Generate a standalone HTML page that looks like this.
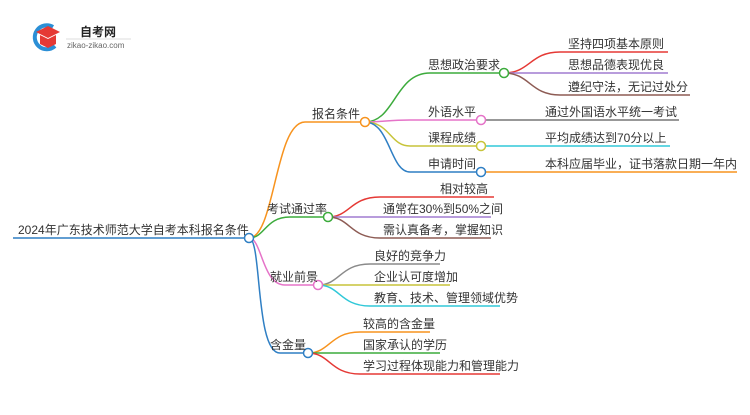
<!DOCTYPE html>
<html><head><meta charset="utf-8"><style>
html,body{margin:0;padding:0;background:#fff;}
svg text{font-family:"Liberation Sans","Noto Sans CJK SC",sans-serif;fill:#333;font-size:12px;}
</style></head><body>
<svg width="750" height="410" viewBox="0 0 750 410" xmlns="http://www.w3.org/2000/svg">
<path d="M53 27 A12 12 0 1 0 55 46" fill="none" stroke="#2b8fd6" stroke-width="4"/>
<path d="M36 32 L48 26 L60 32 L48 38 Z" fill="#e53935"/>
<path d="M40 35 L40 44 L48 48 L56 44 L56 35 L48 39 Z" fill="#e53935"/>
<text x="80" y="36" style="font-size:12px;font-weight:bold;fill:#222">自考网</text>
<line x1="66" y1="39" x2="131" y2="39" stroke="#ddd" stroke-width="1"/>
<text x="67" y="48" style="font-size:8px;fill:#666">zikao-zikao.com</text>

<g fill="none" stroke-width="1.5">
<line x1="13" y1="238" x2="245" y2="238" stroke="#2f7fc4"/>
<path d="M249 238 C275 238 275 122 305 122 L361 122" stroke="#f7931e"/>
<path d="M249 238 C265 238 265 217 290 217 L324 217" stroke="#3cab3c"/>
<path d="M249 238 C262 238 262 285 285 285 L314 285" stroke="#e573c8"/>
<path d="M249 238 C262 238 255 353 280 353 L304 353" stroke="#2f7fc4"/>
<path d="M365 122 C395 122 395 73 430 73 L500 73" stroke="#3cab3c"/>
<path d="M365 122 C380 122 390 120 410 120 L477 120" stroke="#e573c8"/>
<path d="M365 122 C390 122 390 146 410 146 L477 146" stroke="#c7c43a"/>
<path d="M365 122 C390 122 390 172 410 172 L477 172" stroke="#2f7fc4"/>
<path d="M504 73 C530 73 530 52 560 52 L668 52" stroke="#e53935"/>
<path d="M504 73 L668 73" stroke="#a07cd0"/>
<path d="M504 73 C530 73 530 95 560 95 L690 95" stroke="#8d5b54"/>
<line x1="485" y1="120" x2="679" y2="120" stroke="#777"/>
<line x1="485" y1="146" x2="670" y2="146" stroke="#30c8d8"/>
<line x1="485" y1="172" x2="737" y2="172" stroke="#f7931e"/>
<path d="M328 217 C350 217 350 197 380 197 L494 197" stroke="#e53935"/>
<path d="M328 217 L491 217" stroke="#a07cd0"/>
<path d="M328 217 C350 217 350 238 380 238 L491 238" stroke="#8d5b54"/>
<path d="M318 285 C340 285 340 264 370 264 L440 264" stroke="#8a8a8a"/>
<path d="M318 285 L450 285" stroke="#c7c43a"/>
<path d="M318 285 C340 285 340 306 370 306 L500 306" stroke="#30c8d8"/>
<path d="M308 353 C330 353 330 332 360 332 L430 332" stroke="#f7931e"/>
<path d="M308 353 L440 353" stroke="#3cab3c"/>
<path d="M308 353 C330 353 330 374 360 374 L500 374" stroke="#e53935"/>
</g>
<g fill="#fff" stroke-width="1.5">
<circle cx="249" cy="238" r="4.5" stroke="#2f7fc4"/>
<circle cx="365" cy="122" r="4.5" stroke="#f7931e"/>
<circle cx="504" cy="73" r="4.5" stroke="#3cab3c"/>
<circle cx="481" cy="120" r="4.5" stroke="#e573c8"/>
<circle cx="481" cy="146" r="4.5" stroke="#c7c43a"/>
<circle cx="481" cy="172" r="4.5" stroke="#2f7fc4"/>
<circle cx="328" cy="217" r="4.5" stroke="#3cab3c"/>
<circle cx="318" cy="285" r="4.5" stroke="#e573c8"/>
<circle cx="308" cy="353" r="4.5" stroke="#2f7fc4"/>
</g>
<text x="18" y="234">2024年广东技术师范大学自考本科报名条件</text>
<text x="312" y="118">报名条件</text>
<text x="428" y="69">思想政治要求</text>
<text x="568" y="48">坚持四项基本原则</text>
<text x="568" y="69">思想品德表现优良</text>
<text x="568" y="91">遵纪守法，无记过处分</text>
<text x="428" y="116">外语水平</text>
<text x="545" y="116">通过外国语水平统一考试</text>
<text x="428" y="142">课程成绩</text>
<text x="545" y="142">平均成绩达到70分以上</text>
<text x="428" y="168">申请时间</text>
<text x="545" y="168">本科应届毕业，证书落款日期一年内</text>
<text x="267" y="213">考试通过率</text>
<text x="440" y="193">相对较高</text>
<text x="383" y="213">通常在30%到50%之间</text>
<text x="383" y="234">需认真备考，掌握知识</text>
<text x="270" y="281">就业前景</text>
<text x="374" y="260">良好的竞争力</text>
<text x="374" y="281">企业认可度增加</text>
<text x="374" y="302">教育、技术、管理领域优势</text>
<text x="270" y="349">含金量</text>
<text x="363" y="328">较高的含金量</text>
<text x="363" y="349">国家承认的学历</text>
<text x="363" y="370">学习过程体现能力和管理能力</text>
</svg>
</body></html>
